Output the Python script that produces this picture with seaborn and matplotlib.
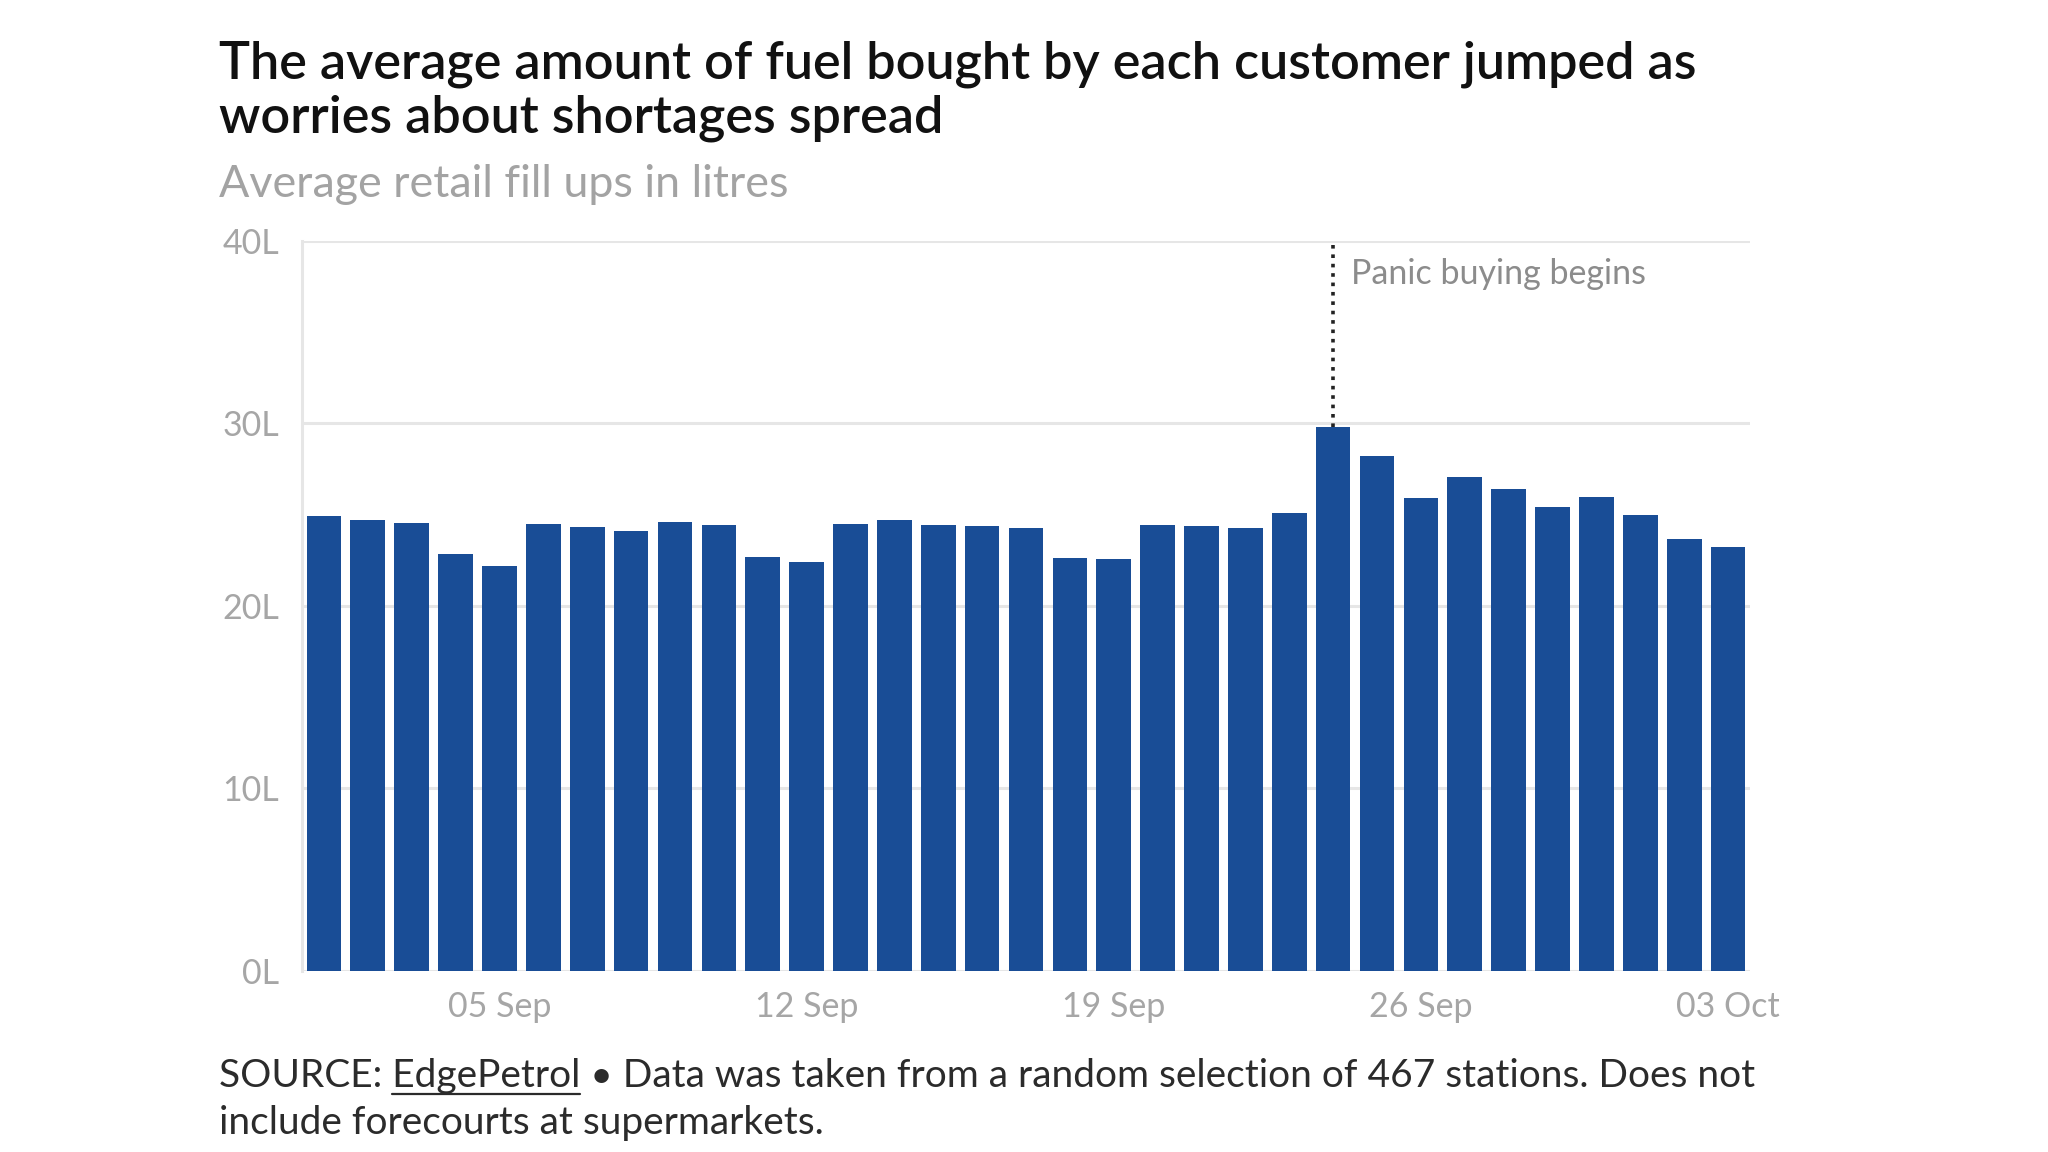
import pandas as pd
import matplotlib.pyplot as plt
import seaborn as sns

# Du lieu: luong nhien lieu trung binh moi lan do (lit), 01 Sep - 03 Oct 2021
dates = pd.date_range("2021-09-01", "2021-10-03", freq="D")
litres = [24.9, 24.7, 24.55, 22.85, 22.2, 24.5, 24.3, 24.1, 24.6, 24.45,
          22.7, 22.4, 24.5, 24.7, 24.45, 24.35, 24.25, 22.6, 22.55, 24.45,
          24.35, 24.25, 25.1, 29.8, 28.2, 25.9, 27.05, 26.4, 25.4, 25.95,
          25.0, 23.65, 23.2]
tick_dates = ["2021-09-05", "2021-09-12", "2021-09-19", "2021-09-26", "2021-10-03"]
tick_labels = ["05 Sep", "12 Sep", "19 Sep", "26 Sep", "03 Oct"]
y_ticks = [0, 10, 20, 30, 40]
panic_date = "2021-09-24"

df = pd.DataFrame({"day": dates.strftime("%Y-%m-%d"), "litres": litres})

sns.set_theme(style="white")
plt.rcParams["font.family"] = ["Lato", "DejaVu Sans"]

W, H = 2048, 1152
fig = plt.figure(figsize=(W / 100, H / 100), dpi=100)
ax = fig.add_axes([302 / W, 1 - 971 / H, (1750 - 302) / W, (971 - 240.7) / H])

grid_c = "#e6e6e6"
ax.set_axisbelow(True)
sns.barplot(data=df, x="day", y="litres", color="#194d96", width=0.79,
            saturation=1, edgecolor="none", ax=ax)

ax.set_ylim(0, 40)
ax.set_xlim(-0.5, len(df) - 0.5)
ax.set_yticks(y_ticks)
ax.set_yticklabels([f"{v}L" for v in y_ticks])
days = list(df["day"])
ax.set_xticks([days.index(d) for d in tick_dates])
ax.set_xticklabels(tick_labels)
ax.set_xlabel("")
ax.set_ylabel("")

ax.yaxis.grid(True, color=grid_c, lw=2.2)
for s in ["top", "right", "bottom"]:
    ax.spines[s].set_visible(False)
ax.spines["left"].set_color(grid_c)
ax.spines["left"].set_linewidth(2.2)
ax.tick_params(axis="y", length=8.5, width=2.2, color=grid_c, pad=8,
               labelsize=24.5, labelcolor="#a6a6a6")
ax.tick_params(axis="x", length=9.5, width=1.5, color=grid_c, pad=5,
               labelsize=24.5, labelcolor="#a6a6a6")

# Duong "Panic buying begins"
px = days.index(panic_date)
ax.vlines(px, litres[px], 40, colors="#222222", linestyles=(0, (1, 1.6)), lw=2.6)
ax.text(px + 0.4, 38.2, "Panic buying begins", fontsize=24.5, color="#8c8c8c",
        va="center", ha="left")

# Tieu de, phu de
x0 = 219 / W
fig.text(x0, 1 - 78 / H, "The average amount of fuel bought by each customer jumped as",
         fontsize=37.5, color="#111111", weight="semibold", va="baseline")
fig.text(x0, 1 - 132 / H, "worries about shortages spread",
         fontsize=37.5, color="#111111", weight="semibold", va="baseline")
fig.text(x0, 1 - 197 / H, "Average retail fill ups in litres",
         fontsize=32.3, color="#a3a3a3", va="baseline")

# Nguon
foot_kw = dict(fontsize=28, color="#2b2b2b", va="baseline")
fig.text(x0, 1 - 1087 / H,
         "SOURCE: EdgePetrol \u2022 Data was taken from a random selection of 467 stations. Does not",
         **foot_kw)
fig.text(x0, 1 - 1134 / H, "include forecourts at supermarkets.", **foot_kw)

# gach chan "EdgePetrol"
r = fig.canvas.get_renderer()
t1 = fig.text(x0, 0, "SOURCE: ", **foot_kw)
t2 = fig.text(x0, 0, "SOURCE: EdgePetrol", **foot_kw)
xa = t1.get_window_extent(r).x1
xb = t2.get_window_extent(r).x1
t1.remove()
t2.remove()
uy = 1 - 1094 / H
fig.add_artist(plt.Line2D([xa / W, xb / W], [uy, uy], color="#2b2b2b", lw=1.6,
                          transform=fig.transFigure))

fig.savefig("out.png", dpi=100, facecolor="white")
